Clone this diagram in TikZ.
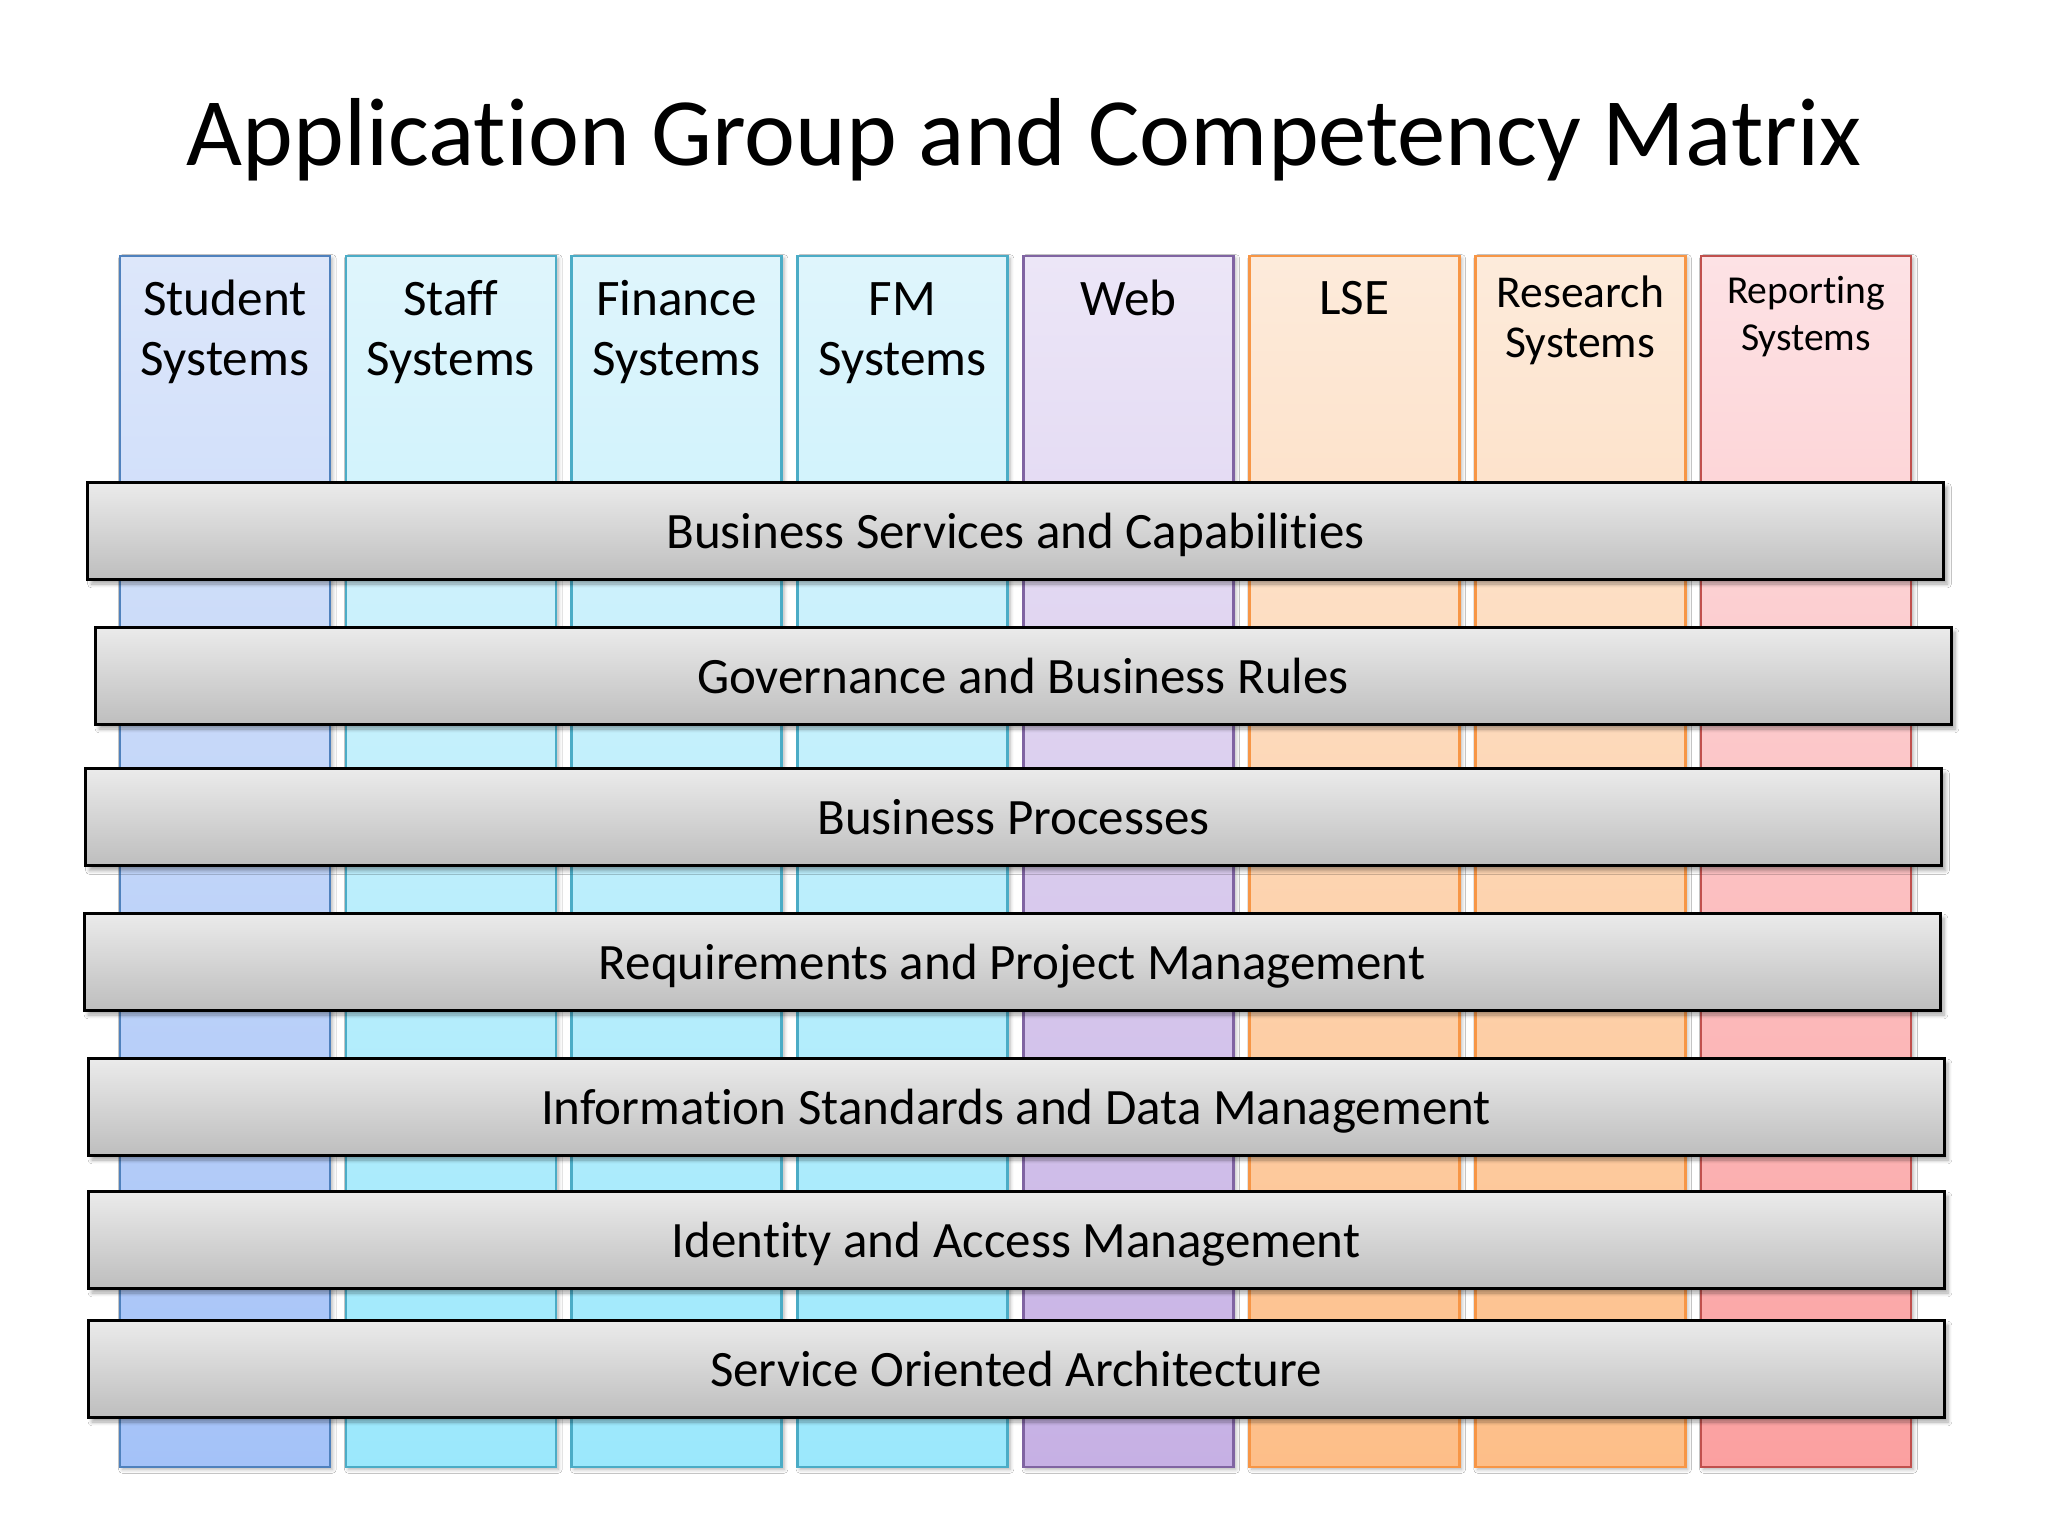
\documentclass[tikz,border=0pt]{standalone}
\usepackage{fontspec}
\setmainfont[Ligatures=NoCommon]{Carlito}
\usetikzlibrary{shadows.blur}
\definecolor{stB}{RGB}{79,129,189}
\definecolor{stT}{RGB}{221,231,250}
\definecolor{stE}{RGB}{164,194,248}
\definecolor{aqB}{RGB}{75,172,198}
\definecolor{aqT}{RGB}{223,245,252}
\definecolor{aqE}{RGB}{155,232,252}
\definecolor{vB}{RGB}{128,100,162}
\definecolor{vT}{RGB}{236,230,247}
\definecolor{vE}{RGB}{198,176,228}
\definecolor{oB}{RGB}{247,150,70}
\definecolor{oT}{RGB}{253,235,219}
\definecolor{oE}{RGB}{253,190,136}
\definecolor{rB}{RGB}{192,80,77}
\definecolor{rT}{RGB}{253,226,229}
\definecolor{rE}{RGB}{251,160,160}
\definecolor{barT}{RGB}{235,235,235}
\definecolor{barE}{RGB}{190,190,190}
\tikzset{
  col/.style={rectangle, line width=1.3pt, minimum width=105pt, minimum height=605.5pt, inner sep=0pt,
    blur shadow={shadow xshift=1.2pt, shadow yshift=-1.2pt, shadow blur steps=5, shadow opacity=30}},
  stucol/.style={col, draw=stB, top color=stT, bottom color=stE},
  aqcol/.style={col, draw=aqB, top color=aqT, bottom color=aqE},
  vcol/.style={col, draw=vB, top color=vT, bottom color=vE},
  ocol/.style={col, draw=oB, top color=oT, bottom color=oE},
  rcol/.style={col, draw=rB, top color=rT, bottom color=rE},
  hdr/.style={anchor=base, align=center, inner sep=0pt, font=\fontsize{25.6}{30}\selectfont},
  hdrs/.style={anchor=base, align=center, inner sep=0pt, font=\fontsize{22.8}{25}\selectfont},
  hdrxs/.style={anchor=base, align=center, inner sep=0pt, font=\fontsize{19.8}{23.5}\selectfont},
  bar/.style={rectangle, draw=black, line width=1.5pt, top color=barT, bottom color=barE,
    minimum width=928pt, minimum height=48.5pt, inner sep=0pt, text height=21pt, text depth=3.5pt,
    font=\fontsize{25.5}{30}\selectfont,
    blur shadow={shadow xshift=2pt, shadow yshift=-2.5pt, shadow blur steps=6, shadow opacity=35}},
}
\begin{document}
\begin{tikzpicture}[x=0.5pt,y=-0.5pt]
\useasboundingbox[fill=white] (0,0) rectangle (2048,1536);
\node[font=\fontsize{48.3}{58}\selectfont, anchor=base, inner sep=0pt] (title) at (1024,165) {Application Group and Competency Matrix};
% columns
\node[stucol] (c1) at (225.0,861.5) {};
\node[aqcol]  (c2) at (450.9,861.5) {};
\node[aqcol]  (c3) at (676.7,861.5) {};
\node[aqcol]  (c4) at (902.6,861.5) {};
\node[vcol]   (c5) at (1128.4,861.5) {};
\node[ocol]   (c6) at (1354.3,861.5) {};
\node[ocol]   (c7) at (1580.2,861.5) {};
\node[rcol]   (c8) at (1806.0,861.5) {};
% headers (anchor = baseline of last line)
\node[hdr]   (h1) at (225.0,375) {Student\\Systems};
\node[hdr]   (h2) at (450.9,375) {Staff\\Systems};
\node[hdr]   (h3) at (676.7,375) {Finance\\Systems};
\node[hdr]   (h4) at (902.6,375) {FM\\Systems};
\node[hdr]   (h5) at (1128.4,315) {Web};
\node[hdr]   (h6) at (1354.3,314) {LSE};
\node[hdrs]  (h7) at (1580.2,357) {Research\\Systems};
\node[hdrxs] (h8) at (1806.0,350) {Reporting\\Systems};
% bars
\node[bar] (b1) at (1015.5,530.5) {Business Services and Capabilities};
\node[bar] (b2) at (1023.0,675.5) {Governance and Business Rules};
\node[bar] (b3) at (1013.5,817.0) {Business Processes};
\node[bar] (b4) at (1012.0,961.5) {Requirements and Project Management};
\node[bar] (b5) at (1016.0,1106.5) {Information Standards and Data Management};
\node[bar] (b6) at (1016.0,1239.5) {Identity and Access Management};
\node[bar] (b7) at (1016.0,1368.5) {Service Oriented Architecture};
\end{tikzpicture}
\end{document}
